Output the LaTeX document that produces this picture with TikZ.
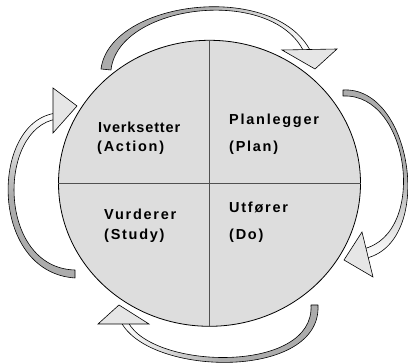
\documentclass[tikz,border=0pt]{standalone}
\usepackage{fontspec}
\newfontfamily\labelfont{Liberation Sans}[LetterSpace=12]
\usetikzlibrary{shapes.geometric}
\definecolor{diskgray}{RGB}{221,221,221}
\definecolor{bandgray}{RGB}{172,172,172}
\definecolor{headgray}{RGB}{230,230,230}
\definecolor{divgray}{RGB}{80,80,80}

\begin{document}
\begin{tikzpicture}[
        x=1pt, y=-1pt,
        disk_node/.style={ellipse, draw, line width=0.8pt, fill=diskgray, inner sep=0pt, minimum width=302pt, minimum height=286pt},
        divider/.style={draw=divgray, line width=1.4pt},
        quarter_text/.style={anchor=base west, inner sep=0pt, font=\labelfont\bfseries\fontsize{14.5}{17}\selectfont},
        arrow_band/.style={draw, line width=0.6pt, line join=round},
        arrow_head/.style={draw, line width=0.6pt, fill=headgray}
    ]
    \useasboundingbox (0,0) rectangle (408,363);
    % Sirkelen med fire felt
    \node[disk_node] (disk) at (209.5,183.3) {};
    \draw[divider] (disk.north) -- (disk.south);
    \draw[divider] (disk.west) -- (disk.east);
    % Tekst i feltene
    \node[quarter_text] (act_no) at (98,133) {\addfontfeatures{LetterSpace=6}Iverksetter};
    \node[quarter_text] (act_en) at (97,152) {(Action)};
    \node[quarter_text] (plan_no) at (229,125) {Planlegger};
    \node[quarter_text] (plan_en) at (229,152) {(Plan)};
    \node[quarter_text] (study_no) at (104,220) {Vurderer};
    \node[quarter_text] (study_en) at (104,240) {(Study)};
    \node[quarter_text] (do_no) at (229,213) {Utfører};
    \node[quarter_text] (do_en) at (229,240) {(Do)};
    % Pil oppe
    \path[arrow_band, left color=bandgray, right color=white, middle color=bandgray]
        (101,69) .. controls (110,0) and (275,-20) .. (311,52)
        -- (304,52) .. controls (272,-15) and (118,4) .. (111,70) -- cycle;
    \draw[arrow_head] (282,50) -- (337,49) -- (315,69) -- cycle;
    % Pil til høyre
    \path[arrow_band, top color=bandgray, bottom color=white, middle color=bandgray]
        (343,90) .. controls (412,86) and (435,240) .. (367,258)
        -- (363,249) .. controls (428,234) and (410,93) .. (343,96) -- cycle;
    \draw[arrow_head] (362,232) -- (373,277) -- (344,260) -- cycle;
    % Pil nede
    \path[arrow_band, right color=bandgray, left color=white, middle color=bandgray]
        (318,305) .. controls (322,380) and (150,377) .. (121,322)
        -- (128,322) .. controls (153,370) and (315,374) .. (311,305) -- cycle;
    \draw[arrow_head] (98,324) -- (149,324) -- (119,305) -- cycle;
    % Pil til venstre
    \path[arrow_band, bottom color=bandgray, top color=white, middle color=bandgray]
        (75,278) .. controls (-12,272) and (-10,120) .. (57,113)
        -- (57,119) .. controls (-3,128) and (-3,268) .. (75,270) -- cycle;
    \draw[arrow_head] (53,88) -- (53,133) -- (77,106) -- cycle;
\end{tikzpicture}
\end{document}
